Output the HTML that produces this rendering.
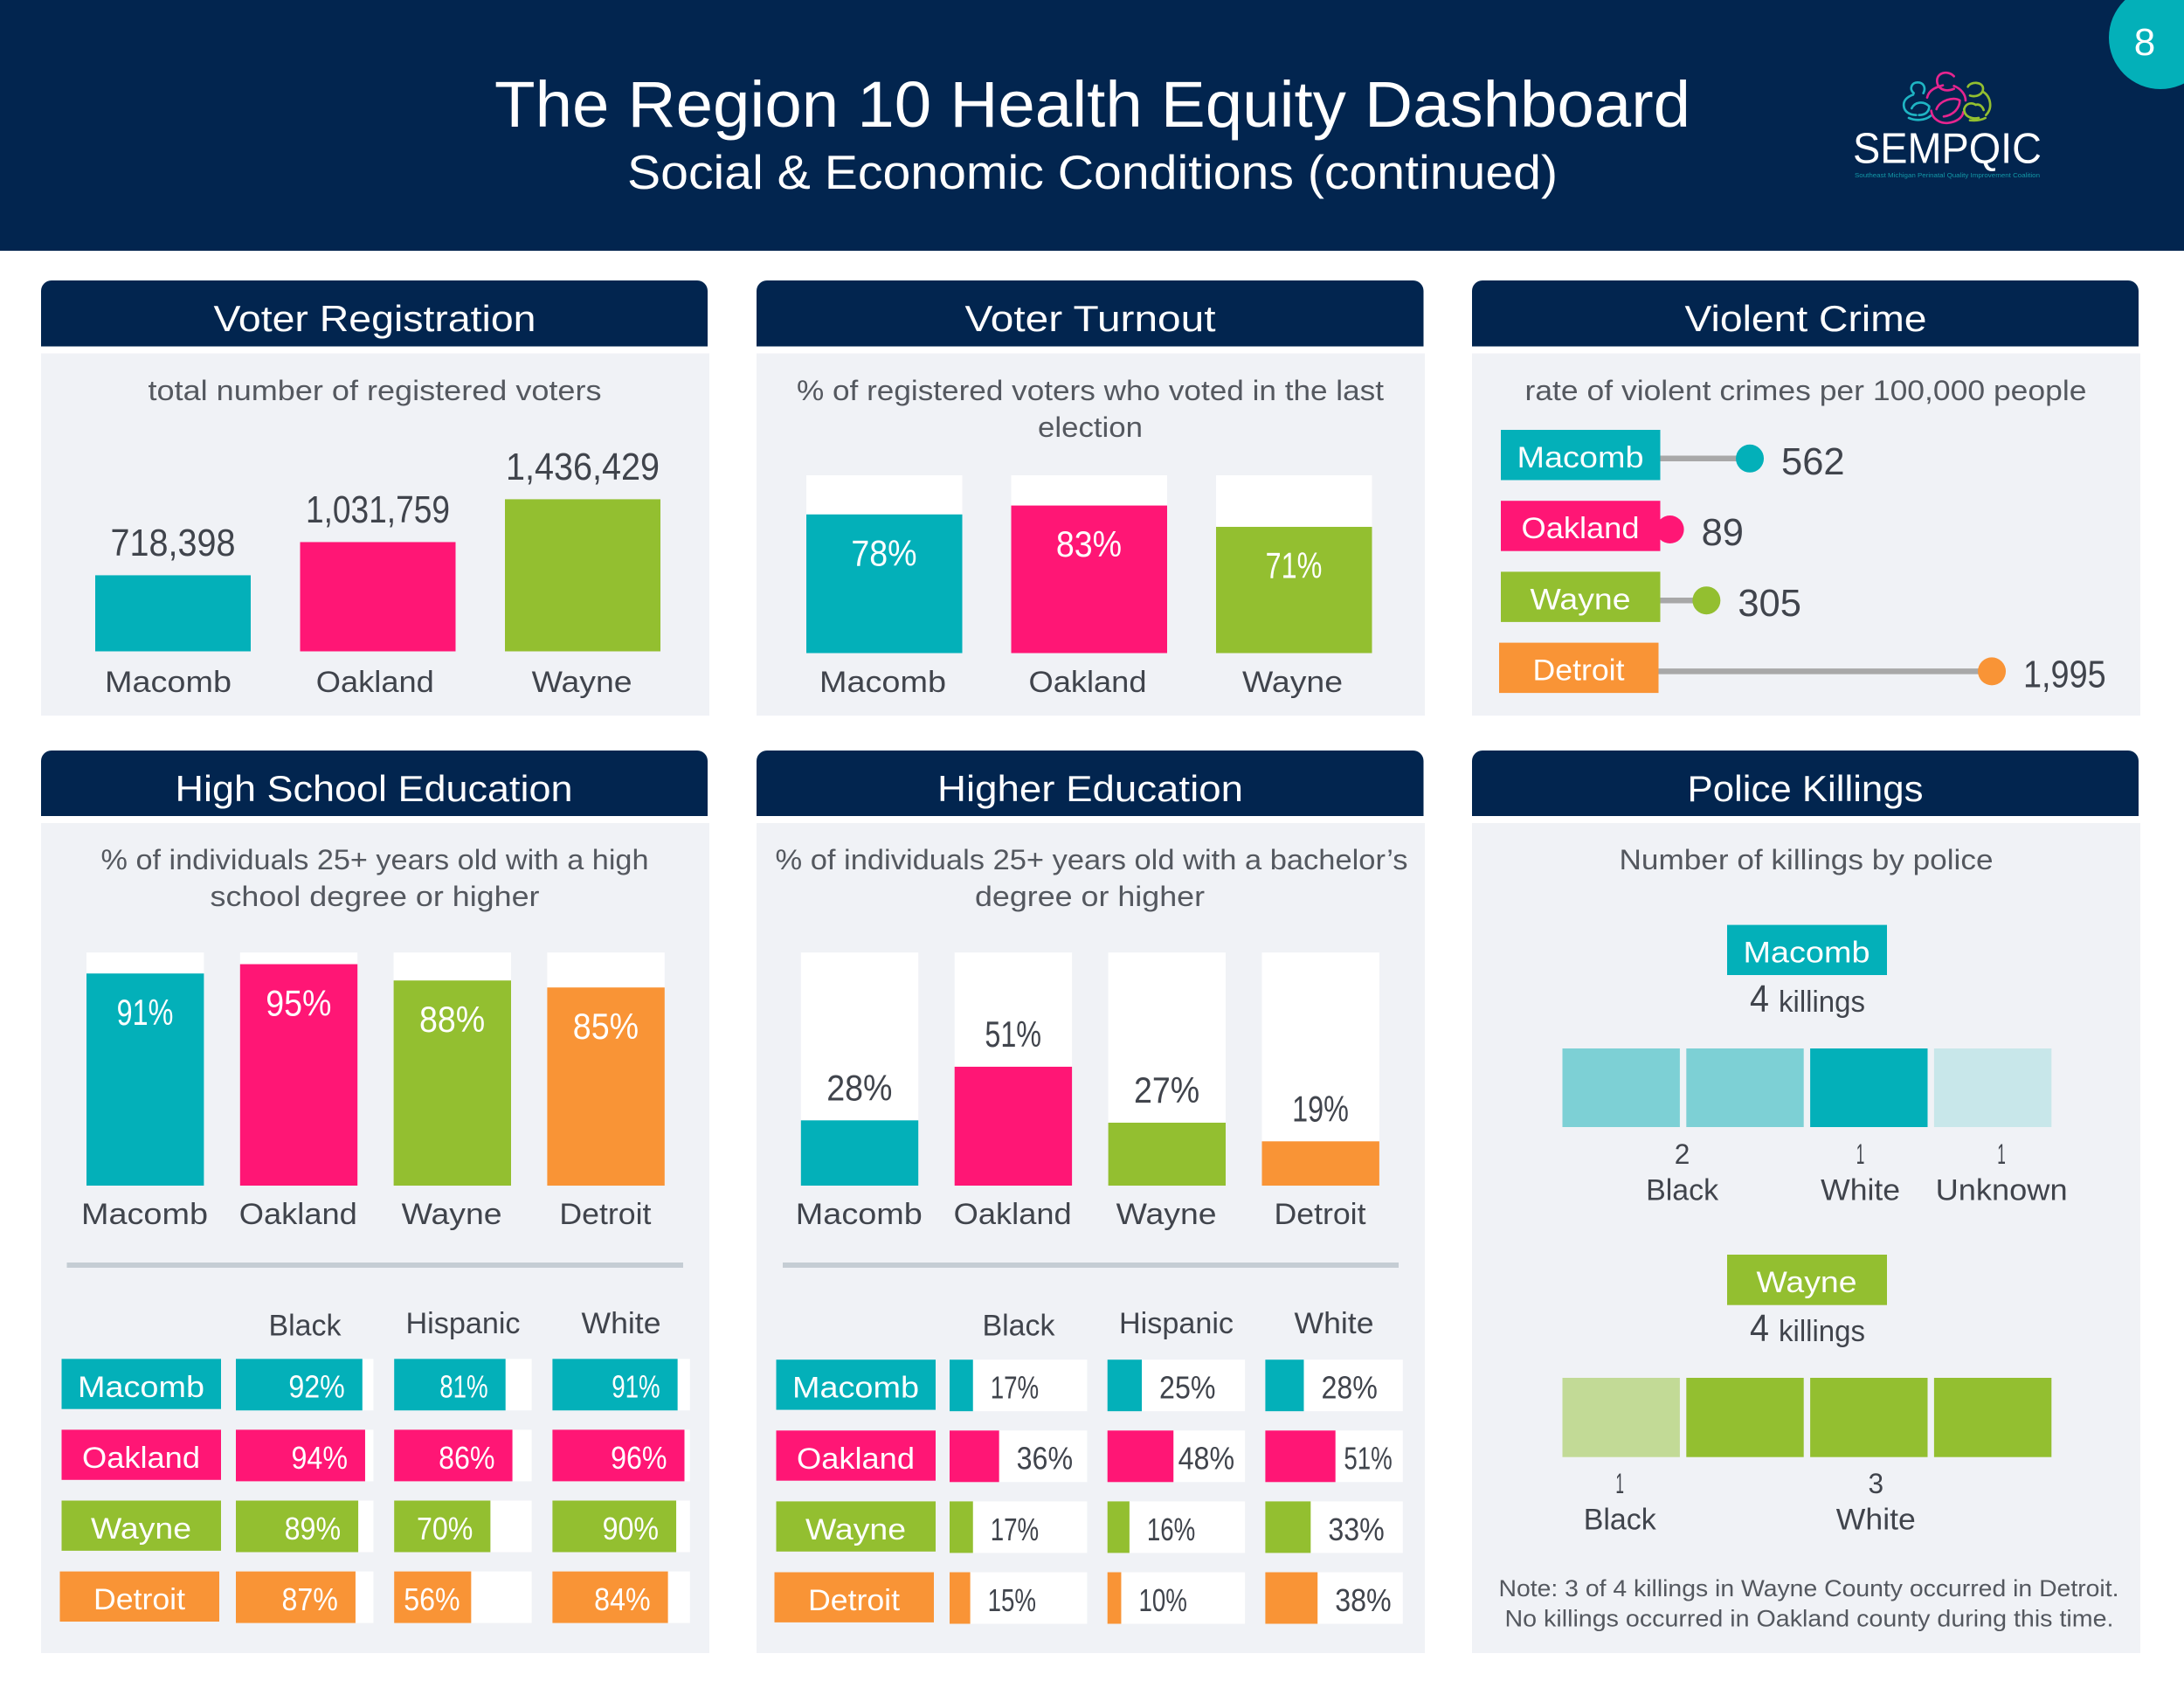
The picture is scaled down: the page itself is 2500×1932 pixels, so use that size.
<!DOCTYPE html>
<html lang="en">
<head>
<meta charset="utf-8">
<title>The Region 10 Health Equity Dashboard</title>
<style>
html,body{margin:0;padding:0;background:#fff;}
svg{display:block;font-family:"Liberation Sans",sans-serif;}
</style>
</head>
<body>
<svg id="dashboard" xmlns="http://www.w3.org/2000/svg" width="2500" height="1932" viewBox="0 0 2500 1932">
  <rect width="2500" height="1932" fill="#ffffff"/>
  <g>
    <rect width="2500" height="287" fill="#02254f"/>
    <text x="1250.5" y="145" font-size="74" fill="#fff" text-anchor="middle" textLength="1369" lengthAdjust="spacingAndGlyphs">The Region 10 Health Equity Dashboard</text>
    <text x="1250.5" y="216" font-size="55" fill="#fff" text-anchor="middle" textLength="1065" lengthAdjust="spacingAndGlyphs">Social &amp; Economic Conditions (continued)</text>
    <circle cx="2473" cy="43" r="59" fill="#03b0b9"/>
    <text x="2455" y="63" font-size="44" fill="#fff" text-anchor="middle">8</text>
    <g>
      <g transform="translate(2080,0) scale(0.3333)" fill="none" stroke-width="8" stroke-linecap="round">
        <g stroke="#1fb5c4">
          <path d="M332 320C315 305 325 283 345 283C365 283 375 300 365 320"/>
          <path d="M330 325C310 332 295 345 298 365C300 385 320 395 340 395"/>
          <path d="M325 372C335 350 365 345 385 365C385 385 370 395 350 395"/>
          <path d="M315 405C335 415 370 415 390 398"/>
        </g>
        <g stroke="#e6258f">
          <path d="M470 262C450 240 410 248 412 280C414 305 440 318 470 305"/>
          <path d="M378 335C385 305 415 298 432 293"/>
          <path d="M470 295C495 305 510 325 510 345"/>
          <path d="M410 375C420 345 470 330 490 345C490 370 470 395 435 400"/>
          <path d="M392 380C395 410 425 425 450 422C475 420 500 405 502 385"/>
        </g>
        <g stroke="#93bf30">
          <path d="M518 298C525 280 570 278 570 305C570 325 545 335 525 328"/>
          <path d="M570 315C595 330 605 370 580 395"/>
          <path d="M505 375C510 355 530 350 545 360C560 355 570 370 572 378"/>
          <path d="M505 375C505 400 530 410 555 405"/>
          <path d="M525 413C545 415 565 412 578 405"/>
        </g>
      </g>
      <text x="2229" y="186.5" font-size="49" fill="#fff" text-anchor="middle" textLength="216" lengthAdjust="spacingAndGlyphs">SEMPQIC</text>
      <text x="2229" y="203" font-size="7.5" fill="#1398a7" text-anchor="middle" textLength="212" lengthAdjust="spacingAndGlyphs">Southeast Michigan Perinatal Quality Improvement Coalition</text>
    </g>
  </g>

  <g>
    <rect x="47" y="404.5" width="765" height="414.5" fill="#f0f2f6"/>
    <path d="M47 333a12 12 0 0 1 12-12H798a12 12 0 0 1 12 12V396.5H47Z" fill="#02254f"/>
    <text x="429" y="379" font-size="42" fill="#fff" text-anchor="middle" textLength="369" lengthAdjust="spacingAndGlyphs">Voter Registration</text>
    <text x="429" y="458" font-size="32" fill="#54585f" text-anchor="middle" textLength="519" lengthAdjust="spacingAndGlyphs">total number of registered voters</text>
    <g id="registration-chart"></g>
  </g>

  <g>
    <rect x="866" y="404.5" width="765" height="414.5" fill="#f0f2f6"/>
    <path d="M866 333a12 12 0 0 1 12-12H1617.5a12 12 0 0 1 12 12V396.5H866Z" fill="#02254f"/>
    <text x="1248" y="379" font-size="42" fill="#fff" text-anchor="middle" textLength="287" lengthAdjust="spacingAndGlyphs">Voter Turnout</text>
    <text x="1248" y="458" font-size="32" fill="#54585f" text-anchor="middle" textLength="672" lengthAdjust="spacingAndGlyphs">% of registered voters who voted in the last</text>
    <text x="1248" y="500" font-size="32" fill="#54585f" text-anchor="middle" textLength="120" lengthAdjust="spacingAndGlyphs">election</text>
    <g id="turnout-chart"></g>
  </g>

  <g>
    <rect x="1685" y="404.5" width="765" height="414.5" fill="#f0f2f6"/>
    <path d="M1685 333a12 12 0 0 1 12-12H2436a12 12 0 0 1 12 12V396.5H1685Z" fill="#02254f"/>
    <text x="2067" y="379" font-size="42" fill="#fff" text-anchor="middle" textLength="277" lengthAdjust="spacingAndGlyphs">Violent Crime</text>
    <text x="2067" y="458" font-size="32" fill="#54585f" text-anchor="middle" textLength="643" lengthAdjust="spacingAndGlyphs">rate of violent crimes per 100,000 people</text>
    <g id="crime-chart"></g>
  </g>

  <g>
    <rect x="47" y="942" width="765" height="950" fill="#f0f2f6"/>
    <path d="M47 871a12 12 0 0 1 12-12H798a12 12 0 0 1 12 12V934H47Z" fill="#02254f"/>
    <text x="428" y="917" font-size="42" fill="#fff" text-anchor="middle" textLength="455" lengthAdjust="spacingAndGlyphs">High School Education</text>
    <text x="429" y="995" font-size="32" fill="#54585f" text-anchor="middle" textLength="627" lengthAdjust="spacingAndGlyphs">% of individuals 25+ years old with a high</text>
    <text x="429" y="1037" font-size="32" fill="#54585f" text-anchor="middle" textLength="377" lengthAdjust="spacingAndGlyphs">school degree or higher</text>
    <g id="hs-chart"></g>
    <rect x="76.5" y="1445" width="705.5" height="6" fill="#c5cdd4"/>
    <g id="hs-table"></g>
  </g>

  <g>
    <rect x="866" y="942" width="765" height="950" fill="#f0f2f6"/>
    <path d="M866 871a12 12 0 0 1 12-12H1617.5a12 12 0 0 1 12 12V934H866Z" fill="#02254f"/>
    <text x="1248" y="917" font-size="42" fill="#fff" text-anchor="middle" textLength="350" lengthAdjust="spacingAndGlyphs">Higher Education</text>
    <text x="1249.5" y="995" font-size="32" fill="#54585f" text-anchor="middle" textLength="724" lengthAdjust="spacingAndGlyphs">% of individuals 25+ years old with a bachelor’s</text>
    <text x="1247.5" y="1037" font-size="32" fill="#54585f" text-anchor="middle" textLength="263" lengthAdjust="spacingAndGlyphs">degree or higher</text>
    <g id="he-chart"></g>
    <rect x="896" y="1445" width="705" height="6" fill="#c5cdd4"/>
    <g id="he-table"></g>
  </g>

  <g>
    <rect x="1685" y="942" width="765" height="950" fill="#f0f2f6"/>
    <path d="M1685 871a12 12 0 0 1 12-12H2436a12 12 0 0 1 12 12V934H1685Z" fill="#02254f"/>
    <text x="2066.5" y="917" font-size="42" fill="#fff" text-anchor="middle" textLength="270" lengthAdjust="spacingAndGlyphs">Police Killings</text>
    <text x="2067.5" y="995" font-size="32" fill="#54585f" text-anchor="middle" textLength="428" lengthAdjust="spacingAndGlyphs">Number of killings by police</text>
    <g id="police-chart"></g>
    <text x="2070.5" y="1827" font-size="27" fill="#54585f" text-anchor="middle" textLength="710" lengthAdjust="spacingAndGlyphs">Note: 3 of 4 killings in Wayne County occurred in Detroit.</text>
    <text x="2071" y="1861.5" font-size="27" fill="#54585f" text-anchor="middle" textLength="697" lengthAdjust="spacingAndGlyphs">No killings occurred in Oakland county during this time.</text>
  </g>
</svg>

<script>
/* ---------- chart data ---------- */
const registrationCounties = ['Macomb', 'Oakland', 'Wayne'];
const registrationValues = [718398, 1031759, 1436429];
const turnoutCounties = ['Macomb', 'Oakland', 'Wayne'];
const turnoutValues = [78, 83, 71];
const crimeCounties = ['Macomb', 'Oakland', 'Wayne', 'Detroit'];
const crimeValues = [562, 89, 305, 1995];
const hsCounties = ['Macomb', 'Oakland', 'Wayne', 'Detroit'];
const hsValues = [91, 95, 88, 85];
const heCounties = ['Macomb', 'Oakland', 'Wayne', 'Detroit'];
const heValues = [28, 51, 27, 19];
const raceGroups = ['Black', 'Hispanic', 'White'];
const hsBlack = [92, 94, 89, 87];
const hsHispanic = [81, 86, 70, 56];
const hsWhite = [91, 96, 90, 84];
const heBlack = [17, 36, 17, 15];
const heHispanic = [25, 48, 16, 10];
const heWhite = [28, 51, 33, 38];
const macombKillingGroups = ['Black', 'White', 'Unknown'];
const macombKillingCounts = [2, 1, 1];
const wayneKillingGroups = ['Black', 'White'];
const wayneKillingCounts = [1, 3];

/* ---------- styling ---------- */
const SVGNS = 'http://www.w3.org/2000/svg';
const DARK = '#40444c';
const countyColor = { Macomb: '#03b0b9', Oakland: '#ff1675', Wayne: '#93bf30', Detroit: '#f99436' };
const wordWidth = { Macomb: 145, Oakland: 135, Wayne: 115, Detroit: 105, Black: 83, Hispanic: 131, White: 91, Unknown: 151 };
const macombShade = { Black: '#7dd0d5', White: '#03b0b9', Unknown: '#c8e7ea' };
const wayneShade = { Black: '#c2da96', White: '#93bf30' };

function make(tag, parent, attrs) {
  const node = document.createElementNS(SVGNS, tag);
  Object.keys(attrs).forEach(function (k) { node.setAttribute(k, attrs[k]); });
  parent.appendChild(node);
  return node;
}
function numberWidth(str, size) {
  let em = 0;
  for (const ch of String(str)) {
    em += ch === '1' ? 0.3 : ch === ',' ? 0.2 : ch === '%' ? 0.69 : 0.55;
  }
  return em * size;
}
function addText(parent, x, y, str, size, fill, anchor, len) {
  const node = make('text', parent, {
    x: x, y: y, 'font-size': size, fill: fill, 'text-anchor': anchor,
    textLength: len, lengthAdjust: 'spacingAndGlyphs'
  });
  node.textContent = str;
  return node;
}
function slug(s) { return String(s).toLowerCase(); }
function boxNudge(county) { return county === 'Detroit' ? -2 : 0; }

/* ---------- axis functions ---------- */
const regX = function (i) { return 109 + i * 234.5; };
const regLabelX = function (i) { return 192.5 + i * 236.8; };
const regY = function (v) { return 745.5 - v * 0.0001212; };
const turnX = function (i) { return 923 + i * 234.5; };
const turnY = function (v) { return 747.5 - v * 2.035; };
const crimeX = function (v) { return 1894.4 + v * 0.1933; };
const crimeRow = function (i) { return 492 + i * 81.2; };
const hsX = function (i) { return 99 + i * 175.8; };
const heX = function (i) { return 916.8 + i * 175.9; };
const eduY = function (v) { return 1357 - v * 2.668; };

/* ---------- voter registration ---------- */
(function () {
  const g = document.getElementById('registration-chart');
  registrationValues.forEach(function (v, i) {
    const county = registrationCounties[i];
    const bar = make('rect', g, { x: regX(i), y: regY(v), width: 178, height: regY(0) - regY(v), fill: countyColor[county] });
    
    
    const val = addText(g, regX(i) + 89, regY(v) - 22.5, v.toLocaleString('en-US'), 44, DARK, 'middle', numberWidth(v.toLocaleString('en-US'), 44));
    
    
    const lab = addText(g, regLabelX(i), 792, county, 34, DARK, 'middle', wordWidth[county]);
    
    
  });
})();

/* ---------- voter turnout ---------- */
(function () {
  const g = document.getElementById('turnout-chart');
  turnoutValues.forEach(function (v, i) {
    const county = turnoutCounties[i];
    const track = make('rect', g, { x: turnX(i), y: turnY(100), width: 178.5, height: turnY(0) - turnY(100), fill: '#ffffff' });
    
    
    const bar = make('rect', g, { x: turnX(i), y: turnY(v), width: 178.5, height: turnY(0) - turnY(v), fill: countyColor[county] });
    
    
    const val = addText(g, turnX(i) + 89, turnY(v) + 58.5, v + '%', 42, '#ffffff', 'middle', numberWidth(v + '%', 42));
    
    
    const lab = addText(g, turnX(i) + 87.5, 792, county, 34, DARK, 'middle', wordWidth[county]);
    
    
  });
})();

/* ---------- violent crime ---------- */
(function () {
  const g = document.getElementById('crime-chart');
  crimeValues.forEach(function (v, i) {
    const county = crimeCounties[i];
    const top = crimeRow(i);
    const boxX = 1718 + boxNudge(county);
    const midY = top + 32.8;
    const line = make('line', g, { x1: boxX + 182, y1: midY, x2: crimeX(v), y2: midY, stroke: '#a8a8a8', 'stroke-width': 6.5 });
    
    
    const dot = make('circle', g, { cx: crimeX(v), cy: midY, r: 16, fill: countyColor[county] });
    
    
    const box = make('rect', g, { x: boxX, y: top, width: 182.5, height: 57.5, fill: countyColor[county] });
    
    
    const lab = addText(g, boxX + 91, top + 43, county, 34, '#ffffff', 'middle', wordWidth[county]);
    
    
    const str = v.toLocaleString('en-US');
    const val = addText(g, crimeX(v) + 36, midY + 18, str, 44, DARK, 'start', numberWidth(str, 44));
    
    
  });
})();

/* ---------- education bars ---------- */
function drawEducation(id, prefix, counties, values, xOf, valueInside) {
  const g = document.getElementById(id);
  values.forEach(function (v, i) {
    const county = counties[i];
    const track = make('rect', g, { x: xOf(i), y: eduY(100), width: 134.4, height: eduY(0) - eduY(100), fill: '#ffffff' });
    
    
    const bar = make('rect', g, { x: xOf(i), y: eduY(v), width: 134.4, height: eduY(0) - eduY(v), fill: countyColor[county] });
    
    
    const valY = valueInside ? eduY(v) + 59 : eduY(v) - 23;
    const val = addText(g, xOf(i) + 67, valY, v + '%', 42, valueInside ? '#ffffff' : DARK, 'middle', numberWidth(v + '%', 42));
    
    
    const lab = addText(g, xOf(i) + 66.5, 1401, county, 34, DARK, 'middle', wordWidth[county]);
    
    
  });
}
drawEducation('hs-chart', 'high-school', hsCounties, hsValues, hsX, true);
drawEducation('he-chart', 'higher-ed', heCounties, heValues, heX, false);

/* ---------- race tables ---------- */
function drawTable(id, prefix, counties, columns, opts) {
  const g = document.getElementById(id);
  const trackW = 157.4;
  const rowY = function (r) { return opts.top + r * 81.1; };
  const colX = function (c) { return opts.left + c * opts.step; };
  const fillW = function (v) { return trackW * v / 100; };

  raceGroups.forEach(function (group, c) {
    const head = addText(g, opts.headX[c], opts.headY[c], group, 34, DARK, 'middle', wordWidth[group]);
    
    
  });

  counties.forEach(function (county, r) {
    const boxX = opts.boxLeft + boxNudge(county);
    const box = make('rect', g, { x: boxX, y: rowY(r), width: 182.5, height: 57.4, fill: countyColor[county] });
    
    
    const lab = addText(g, boxX + 91, rowY(r) + 43.5, county, 34, '#ffffff', 'middle', wordWidth[county]);
    
    

    columns.forEach(function (series, c) {
      const v = series[r];
      const left = colX(c);
      const track = make('rect', g, { x: left, y: rowY(r), width: trackW, height: 59, fill: '#ffffff' });
      
      
      const bar = make('rect', g, { x: left, y: rowY(r), width: fillW(v), height: 59, fill: countyColor[county] });
      
      
      const str = v + '%';
      const w = numberWidth(str, 36);
      const right = left + fillW(v);
      let textX;
      if (opts.inside) {
        textX = Math.max(right - 20 - w, left + 11);
      } else {
        textX = Math.min(right + 20, left + trackW - 12 - w);
      }
      const val = addText(g, textX, rowY(r) + 44.4, str, 36, opts.inside ? '#ffffff' : DARK, 'start', w);
      
      
    });
  });
}
drawTable('hs-table', 'high-school-table', hsCounties, [hsBlack, hsHispanic, hsWhite], {
  top: 1555.3, left: 270, step: 181.2, boxLeft: 70.5, inside: true,
  headX: [349, 530, 711], headY: [1528.5, 1526, 1526]
});
drawTable('he-table', 'higher-ed-table', heCounties, [heBlack, heHispanic, heWhite], {
  top: 1556.2, left: 1087, step: 180.7, boxLeft: 888.5, inside: false,
  headX: [1166, 1346.5, 1527], headY: [1528.5, 1526, 1526]
});

/* ---------- police killings ---------- */
function drawUnits(county, groups, counts, shade, nudges, o) {
  const g = document.getElementById('police-chart');
  const unitX = function (u) { return 1788.5 + u * 141.8; };
  const box = make('rect', g, { x: 1977, y: o.boxY, width: 183, height: o.boxH, fill: countyColor[county] });
  
  
  const lab = addText(g, 2068, o.boxY + o.boxH - 14.5, county, 34, '#ffffff', 'middle', wordWidth[county]);
  
  

  const total = counts.reduce(function (a, b) { return a + b; }, 0);
  const num = addText(g, 2003, o.totalY, String(total), 44, DARK, 'start', 22);
  
  
  const word = addText(g, 2036, o.totalY, 'killings', 34, DARK, 'start', 99);
  
  

  let u = 0;
  groups.forEach(function (group, i) {
    const first = u;
    for (let k = 0; k < counts[i]; k++) {
      const sq = make('rect', g, { x: unitX(u), y: o.unitY, width: 134.4, height: o.unitH, fill: shade[group] });
      
      
      u++;
    }
    const center = (unitX(first) + unitX(u - 1) + 134.4) / 2 + nudges[i];
    const cnt = addText(g, center, o.countY, String(counts[i]), 32, DARK, 'middle', numberWidth(String(counts[i]), 32));
    
    
    const name = addText(g, center, o.countY + 41.7, group, 34, DARK, 'middle', wordWidth[group]);
    
    
  });
}
drawUnits('Macomb', macombKillingGroups, macombKillingCounts, macombShade, [-1, -9.7, 10],
  { boxY: 1058.6, boxH: 57.4, totalY: 1158, unitY: 1200, unitH: 90, countY: 1332 });
drawUnits('Wayne', wayneKillingGroups, wayneKillingCounts, wayneShade, [-1.5, 8],
  { boxY: 1436, boxH: 57.7, totalY: 1535, unitY: 1577, unitH: 90.7, countY: 1709 });
</script>
</body>
</html>
